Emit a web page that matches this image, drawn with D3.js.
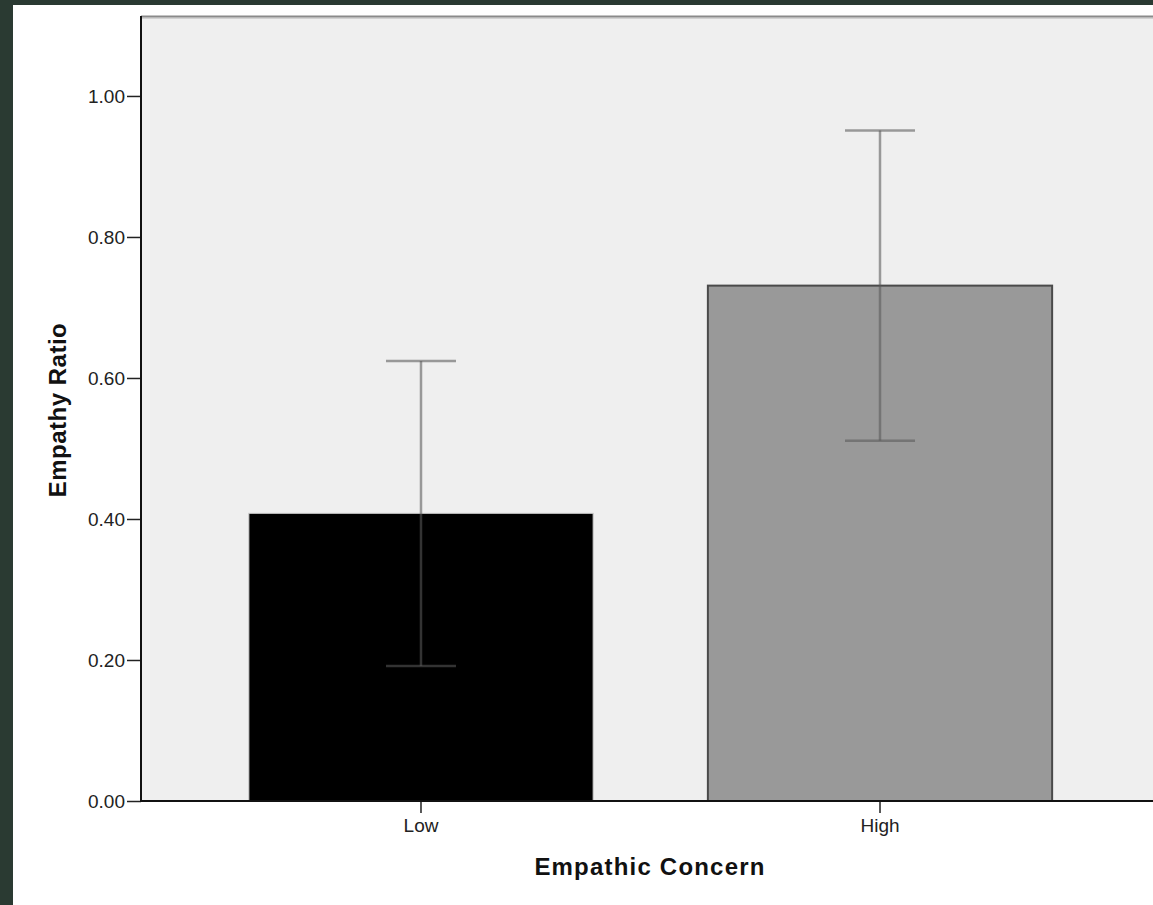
<!DOCTYPE html>
<html>
<head>
<meta charset="utf-8">
<script src="https://cdn.jsdelivr.net/npm/d3@7/dist/d3.min.js"></script>
<style>
  html, body { margin: 0; padding: 0; background: #2a3a32; }
  svg { display: block; }
</style>
</head>
<body>
<script>
const categories = ["Low", "High"];
const means = [0.408, 0.731];
const ciLower = [0.1915, 0.511];
const ciUpper = [0.624, 0.951];
const yTicks = [0, 0.2, 0.4, 0.6, 0.8, 1.0];
const barFills = ["#000000", "#999999"];
const barStrokes = ["#c8c8c8", "#4a4a4a"];

(function () {
const W = 1153, H = 905;
const svg = d3.select("body").append("svg").attr("width", W).attr("height", H);

// frame
svg.append("rect").attr("x", 0).attr("y", 0).attr("width", W).attr("height", H).attr("fill", "#2a3a32");
svg.append("rect").attr("x", 13).attr("y", 5).attr("width", W - 13).attr("height", H - 5).attr("fill", "#ffffff");

const pLeft = 141, pTop = 17, pBottom = 801, pRight = 1160;
const y = d3.scaleLinear().domain([0, 1.112]).range([pBottom, pTop]);
const x = d3.scaleBand().domain(categories).range([pLeft, pRight]).paddingInner(0.25).paddingOuter(0.235);

// plot background
svg.append("rect").attr("x", pLeft).attr("y", pTop).attr("width", W - pLeft).attr("height", pBottom - pTop).attr("fill", "#efefef");
// top border
svg.append("line").attr("x1", pLeft).attr("x2", W).attr("y1", pTop - 0.5).attr("y2", pTop - 0.5).attr("stroke", "#8a8a8a").attr("stroke-width", 2);
svg.append("line").attr("x1", pLeft).attr("x2", W).attr("y1", pTop + 1).attr("y2", pTop + 1).attr("stroke", "#b5b5b5").attr("stroke-width", 1);

// bars
svg.selectAll("rect.bar").data(categories).enter().append("rect")
  .attr("class", "bar")
  .attr("x", d => x(d))
  .attr("width", x.bandwidth())
  .attr("y", (d, i) => y(means[i]))
  .attr("height", (d, i) => y(0) - y(means[i]))
  .attr("fill", (d, i) => barFills[i])
  .attr("stroke", (d, i) => barStrokes[i])
  .attr("stroke-width", (d, i) => i === 0 ? 1 : 2);

// error bars
const capW = 70;
const eb = svg.selectAll("g.eb").data(categories).enter().append("g").attr("class", "eb")
  .attr("stroke", "rgb(89,89,89)").attr("stroke-opacity", 0.575).attr("stroke-width", 2.5);
eb.append("line")
  .attr("x1", d => x(d) + x.bandwidth() / 2).attr("x2", d => x(d) + x.bandwidth() / 2)
  .attr("y1", (d, i) => y(ciLower[i])).attr("y2", (d, i) => y(ciUpper[i]));
eb.append("line")
  .attr("x1", d => x(d) + x.bandwidth() / 2 - capW / 2).attr("x2", d => x(d) + x.bandwidth() / 2 + capW / 2)
  .attr("y1", (d, i) => y(ciUpper[i])).attr("y2", (d, i) => y(ciUpper[i]));
eb.append("line")
  .attr("x1", d => x(d) + x.bandwidth() / 2 - capW / 2).attr("x2", d => x(d) + x.bandwidth() / 2 + capW / 2)
  .attr("y1", (d, i) => y(ciLower[i])).attr("y2", (d, i) => y(ciLower[i]));

// y axis
const yAxis = d3.axisLeft(y).tickValues(yTicks).tickFormat(d3.format(".2f")).tickSize(14).tickPadding(2);
const gy = svg.append("g").attr("transform", `translate(${pLeft},0)`).call(yAxis);
gy.select(".domain").remove();
gy.selectAll(".tick line").attr("stroke", "#222").attr("stroke-width", 1.5);
gy.selectAll(".tick text").attr("font-family", "Liberation Sans, Arial, sans-serif").attr("font-size", 19).attr("fill", "#222");
svg.append("line").attr("x1", pLeft).attr("x2", pLeft).attr("y1", pTop - 1).attr("y2", pBottom + 1).attr("stroke", "#111").attr("stroke-width", 2);

// x axis
const xAxis = d3.axisBottom(x).tickSize(12).tickPadding(6);
const gx = svg.append("g").attr("transform", `translate(0,${pBottom})`).call(xAxis);
gx.select(".domain").remove();
gx.selectAll(".tick line").attr("stroke", "#222").attr("stroke-width", 1.5);
gx.selectAll(".tick text").attr("font-family", "Liberation Sans, Arial, sans-serif").attr("font-size", 19).attr("fill", "#222");
svg.append("line").attr("x1", pLeft).attr("x2", W).attr("y1", pBottom).attr("y2", pBottom).attr("stroke", "#111").attr("stroke-width", 2);

// titles
svg.append("text").attr("x", 650).attr("y", 875).attr("text-anchor", "middle")
  .attr("font-family", "Liberation Sans, Arial, sans-serif").attr("font-weight", "bold").attr("font-size", 24)
  .attr("letter-spacing", 1.2).attr("fill", "#111").text("Empathic Concern");
svg.append("text").attr("transform", "translate(66,410) rotate(-90)").attr("text-anchor", "middle")
  .attr("font-family", "Liberation Sans, Arial, sans-serif").attr("font-weight", "bold").attr("font-size", 24)
  .attr("letter-spacing", 0.5).attr("fill", "#111").text("Empathy Ratio");
})();
</script>
</body>
</html>
